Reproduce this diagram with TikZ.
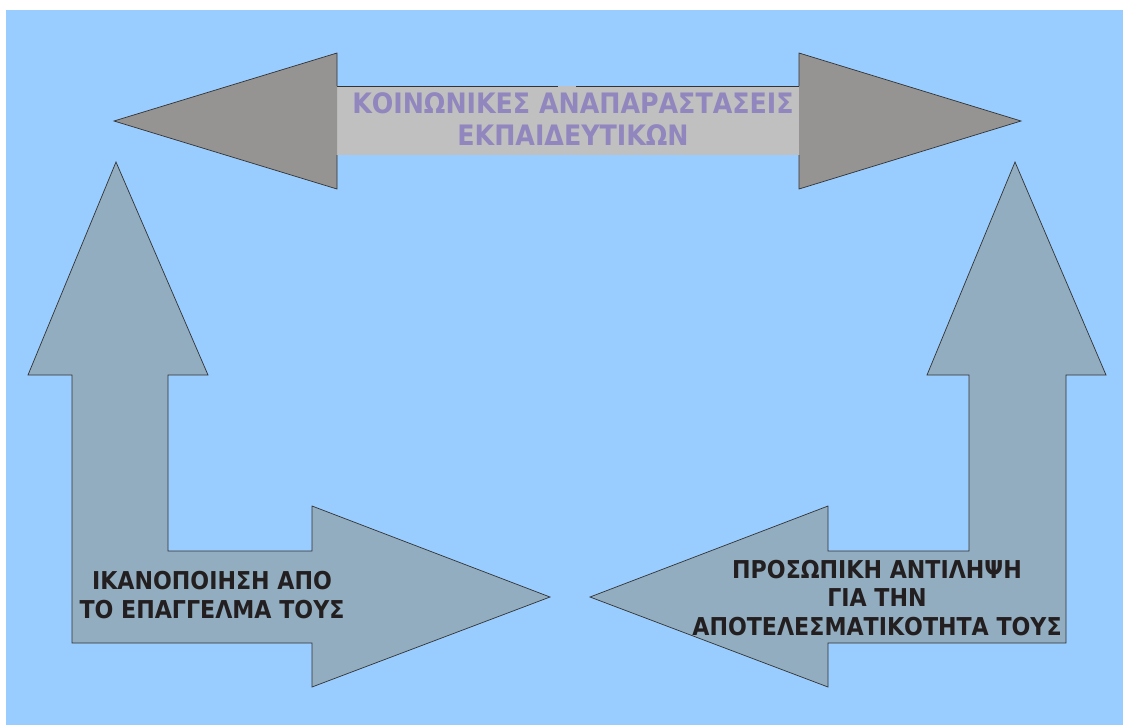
\documentclass[tikz,border=0pt]{standalone}
\usepackage{fontspec}
\setmainfont{DejaVu Sans Condensed}[BoldFont={DejaVu Sans Condensed Bold}]
\usepackage{xcolor}
\usepackage{tikz}

\definecolor{skyback}{HTML}{99CCFF}
\definecolor{headgray}{HTML}{959493}
\definecolor{shaftgray}{HTML}{C0C0C0}
\definecolor{slateblue}{HTML}{92ADBF}
\definecolor{lilac}{HTML}{9186BE}
\definecolor{inkdark}{HTML}{231F20}

\tikzset{
  arrowshape/.style={draw=black!80, line width=0.5pt, line join=miter},
  biglabel/.style={align=center, font=\bfseries\fontsize{17.5}{20}\selectfont, text=inkdark},
  toplabel/.style={align=center, font=\bfseries\fontsize{20}{23}\selectfont, text=lilac}
}

\begin{document}
\begin{tikzpicture}[x=0.025cm, y=-0.025cm]
  \useasboundingbox (0,0) rectangle (1123,725);
  % Background
  \fill[skyback] (6,10) rectangle (1123,725);

  % Double arrow on top
  \fill[shaftgray] (337,86) rectangle (799,155);
  \draw[arrowshape] (337,86) -- (558,86) (576,86) -- (799,86);
  \draw[arrowshape, fill=headgray] (337,86) -- (337,53) -- (114,121) -- (337,189) -- (337,155);
  \draw[arrowshape, fill=headgray] (799,86) -- (799,53) -- (1021,121) -- (799,189) -- (799,155);
  \node[toplabel] (social) at (573,119) {ΚΟΙΝΩΝΙΚΕΣ ΑΝΑΠΑΡΑΣΤΑΣΕΙΣ\\ΕΚΠΑΙΔΕΥΤΙΚΩΝ};

  % Bent arrow on the left
  \draw[arrowshape, fill=slateblue] (72,643) -- (72,375) -- (28,375) -- (116,162) -- (208,375)
    -- (168,375) -- (168,551) -- (312,551) -- (312,506) -- (550,597) -- (312,687) -- (312,643) -- cycle;
  \node[biglabel] (satisfaction) at (212,595) {ΙΚΑΝΟΠΟΙΗΣΗ ΑΠΟ\\ΤΟ ΕΠΑΓΓΕΛΜΑ ΤΟΥΣ};

  % Bent arrow on the right
  \draw[arrowshape, fill=slateblue] (1066,643) -- (1066,375) -- (1106,375) -- (1015,162) -- (927,375)
    -- (969,375) -- (969,551) -- (828,551) -- (828,506) -- (590,597) -- (828,687) -- (828,643) -- cycle;
  \node[biglabel] (efficacy) at (877,598) {ΠΡΟΣΩΠΙΚΗ ΑΝΤΙΛΗΨΗ\\ΓΙΑ ΤΗΝ\\ΑΠΟΤΕΛΕΣΜΑΤΙΚΟΤΗΤΑ ΤΟΥΣ};
\end{tikzpicture}
\end{document}
